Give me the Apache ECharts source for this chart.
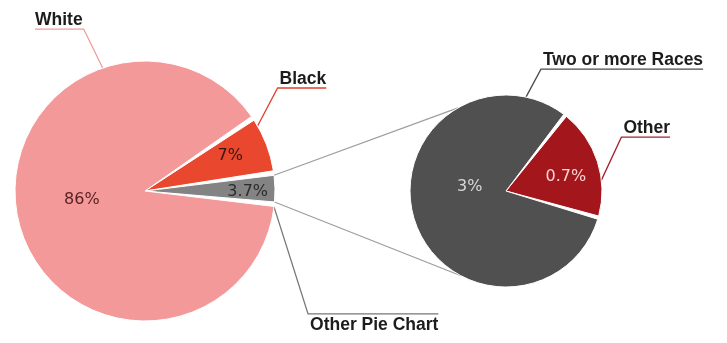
<!DOCTYPE html>
<html>
<head>
<meta charset="utf-8">
<script src="https://cdn.jsdelivr.net/npm/echarts@6/dist/echarts.min.js"></script>
<style>
  html, body { margin: 0; padding: 0; background: #ffffff; }
  #chart { width: 727px; height: 343px; }
</style>
</head>
<body>
<div id="chart"></div>
<script>
// Main breakdown of the population
const mainNames = ['Black', 'Other Pie Chart', 'White'];
const mainValues = [7, 3.7, 86];
const mainLabels = ['7%', '3.7%', '86%'];

// Breakdown of the grouped "Other" slice
const subNames = ['Other', 'Two or more Races'];
const subValues = [0.7, 3];
const subLabels = ['0.7%', '3%'];

// ---- styling ----
const sliceColor = {
  'Black': '#e9482f',
  'Other Pie Chart': '#838383',
  'White': '#f3999a',
  'Other': '#a3171c',
  'Two or more Races': '#505050'
};
const innerTextColor = {
  'Black': '#3a1510',
  'Other Pie Chart': '#2b2b2b',
  'White': '#5a2222',
  'Other': '#fbd2d2',
  'Two or more Races': '#d8d8d8'
};
const leaderColor = {
  'Black': '#e0402e',
  'Other Pie Chart': '#777777',
  'White': '#ee9c9c',
  'Other': '#a3242a',
  'Two or more Races': '#4a4a4a'
};
// value label placement: turn (deg, ccw) from the slice bisector and fraction of radius
const innerPlace = {
  'Black': { turn: 1.5, frac: 0.71 },
  'Other Pie Chart': { turn: -1.5, frac: 0.79 },
  'White': { turn: -6.5, frac: 0.49 },
  'Other': { turn: -5, frac: 0.64 },
  'Two or more Races': { turn: -24, frac: 0.38 }
};
// name label leader: anchor angle on the rim (deg, ccw from 3 o'clock), elbow offset, text side
const outerPlace = {
  'White': { angle: 109, dx: -19, dy: -39, side: 'left' },
  'Black': { angle: 30, dx: 20, dy: -38, side: 'right' },
  'Other Pie Chart': { angle: -7, dx: 34, dy: 107, side: 'right', below: true },
  'Two or more Races': { angle: 78, dx: 15, dy: -28, side: 'right' },
  'Other': { angle: 6.5, dx: 20, dy: -43, side: 'right' }
};

const RAD = Math.PI / 180;
const chart = echarts.init(document.getElementById('chart'), null, { renderer: 'canvas' });

function itemLayout(seriesIndex, dataIndex) {
  return chart.getModel().getSeriesByIndex(seriesIndex).getData().getItemLayout(dataIndex);
}
function namesOf(seriesIndex) {
  return (seriesIndex % 2 === 0) ? mainNames : subNames;
}

function innerLayout(p) {
  const lay = itemLayout(p.seriesIndex, p.dataIndex);
  const pl = innerPlace[namesOf(p.seriesIndex)[p.dataIndex]];
  const mid = (lay.startAngle + lay.endAngle) / 2 - pl.turn * RAD;
  const rr = lay.r * pl.frac;
  return {
    x: lay.cx + rr * Math.cos(mid),
    y: lay.cy + rr * Math.sin(mid),
    align: 'center',
    verticalAlign: 'middle'
  };
}

function outerLayout(p) {
  const lay = itemLayout(p.seriesIndex, p.dataIndex);
  const pl = outerPlace[namesOf(p.seriesIndex)[p.dataIndex]];
  const a = -pl.angle * RAD;
  const ax = lay.cx + lay.r * Math.cos(a);
  const ay = lay.cy + lay.r * Math.sin(a);
  const ex = ax + pl.dx;
  const ey = ay + pl.dy;
  const w = p.labelRect.width;
  let tx, ux, align;
  if (pl.side === 'left') {
    tx = ex - 1; ux = ex - w - 1; align = 'right';
  } else {
    tx = ex + 2; ux = ex + w + 2; align = 'left';
  }
  return {
    x: tx,
    y: pl.below ? ey + 2 : ey,
    align: align,
    verticalAlign: pl.below ? 'top' : 'bottom',
    labelLinePoints: [[ax, ay], [ex, ey], [ux, ey]]
  };
}

function sliceData(names, values, texts) {
  return names.map((n, i) => ({
    name: n,
    value: values[i],
    itemStyle: { color: sliceColor[n] },
    label: { color: innerTextColor[n], formatter: texts[i] }
  }));
}
function overlayData(names, values) {
  return names.map((n, i) => ({
    name: n,
    value: values[i],
    labelLine: { lineStyle: { color: leaderColor[n] } }
  }));
}

const mainPie = { center: [145, 191], radius: 130, startAngle: 34, padAngle: 2 };
const subPie = { center: [506, 191], radius: 96, startAngle: 52, padAngle: 2 };

const valueLabel = {
  show: true,
  position: 'inside',
  fontFamily: '"DejaVu Sans", sans-serif',
  fontSize: 16
};
const nameLabel = {
  show: true,
  position: 'outside',
  formatter: '{b}',
  color: '#1c1c1c',
  fontFamily: '"Liberation Sans", Arial, sans-serif',
  fontWeight: 'bold',
  fontSize: 17.5,
  lineHeight: 18,
  distanceToLabelLine: 0
};
const common = {
  type: 'pie',
  clockwise: true,
  avoidLabelOverlap: false,
  silent: true,
  animation: false,
  itemStyle: { borderColor: '#ffffff', borderWidth: 1 }
};

chart.setOption({
  backgroundColor: '#ffffff',
  animation: false,
  series: [
    Object.assign({}, common, mainPie, {
      data: sliceData(mainNames, mainValues, mainLabels),
      label: valueLabel,
      labelLine: { show: false },
      labelLayout: innerLayout
    }),
    Object.assign({}, common, subPie, {
      data: sliceData(subNames, subValues, subLabels),
      label: valueLabel,
      labelLine: { show: false },
      labelLayout: innerLayout
    }),
    Object.assign({}, common, mainPie, {
      data: overlayData(mainNames, mainValues),
      itemStyle: { color: 'rgba(0,0,0,0)', borderWidth: 0 },
      label: nameLabel,
      labelLine: { show: true, length: 10, length2: 5, lineStyle: { width: 1.3 } },
      labelLayout: outerLayout
    }),
    Object.assign({}, common, subPie, {
      data: overlayData(subNames, subValues),
      itemStyle: { color: 'rgba(0,0,0,0)', borderWidth: 0 },
      label: nameLabel,
      labelLine: { show: true, length: 10, length2: 5, lineStyle: { width: 1.3 } },
      labelLayout: outerLayout
    })
  ]
});

// Connector lines from the grouped slice to the breakdown pie
const g = itemLayout(0, mainNames.indexOf('Other Pie Chart'));
const s = itemLayout(1, 0);
const topTarget = -120 * RAD;
const bottomTarget = 118 * RAD;
chart.setOption({
  graphic: [
    {
      type: 'line', silent: true, z: 0,
      shape: {
        x1: g.cx + g.r * Math.cos(g.startAngle), y1: g.cy + g.r * Math.sin(g.startAngle),
        x2: s.cx + s.r * Math.cos(topTarget), y2: s.cy + s.r * Math.sin(topTarget)
      },
      style: { stroke: '#9c9c9c', lineWidth: 1.1 }
    },
    {
      type: 'line', silent: true, z: 0,
      shape: {
        x1: g.cx + g.r * Math.cos(g.endAngle), y1: g.cy + g.r * Math.sin(g.endAngle),
        x2: s.cx + s.r * Math.cos(bottomTarget), y2: s.cy + s.r * Math.sin(bottomTarget)
      },
      style: { stroke: '#9c9c9c', lineWidth: 1.1 }
    }
  ]
});
</script>
</body>
</html>
